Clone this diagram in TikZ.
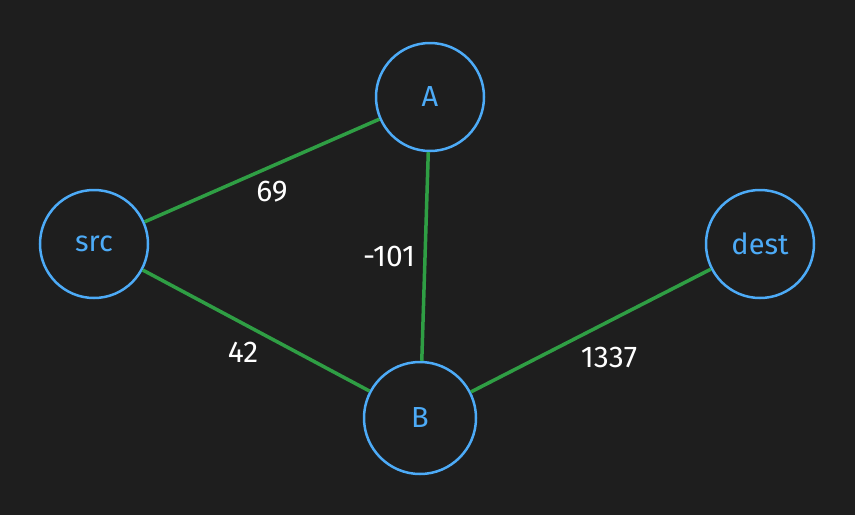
\documentclass[tikz,border=0pt]{standalone}
\usepackage{fontspec}
\setmainfont{Fira Sans}
\definecolor{bgdark}{RGB}{30,30,30}
\definecolor{nodeblue}{RGB}{77,171,247}
\definecolor{edgegreen}{RGB}{47,158,68}
\tikzset{
  vertex/.style={circle, draw=nodeblue, line width=2.5pt, minimum size=108pt, inner sep=0pt,
    text=nodeblue, font=\fontsize{29}{29}\selectfont},
  edge/.style={draw=edgegreen, line width=3.5pt},
  weight/.style={text=white, font=\fontsize{30}{30}\selectfont}
}
\begin{document}
\begin{tikzpicture}[x=1pt, y=-1pt]
  \fill[bgdark] (0,0) rectangle (855,515);
  \useasboundingbox (0,0) rectangle (855,515);

  \node[vertex] (A) at (430,97) {A};
  \node[vertex] (src) at (94,244) {src};
  \node[vertex] (dest) at (760,244) {dest};
  \node[vertex, minimum size=112pt] (B) at (420,418) {B};

  \draw[edge] (src) -- (A);
  \draw[edge] (A) -- (B);
  \draw[edge] (src) -- (B);
  \draw[edge] (B) -- (dest);

  \node[weight] (wSA) at (272,192) {69};
  \node[weight] (wAB) at (389,256) {-101};
  \node[weight] (wSB) at (243,352) {42};
  \node[weight] (wBD) at (609,357) {1337}; % weights beside edges
\end{tikzpicture}
\end{document}
